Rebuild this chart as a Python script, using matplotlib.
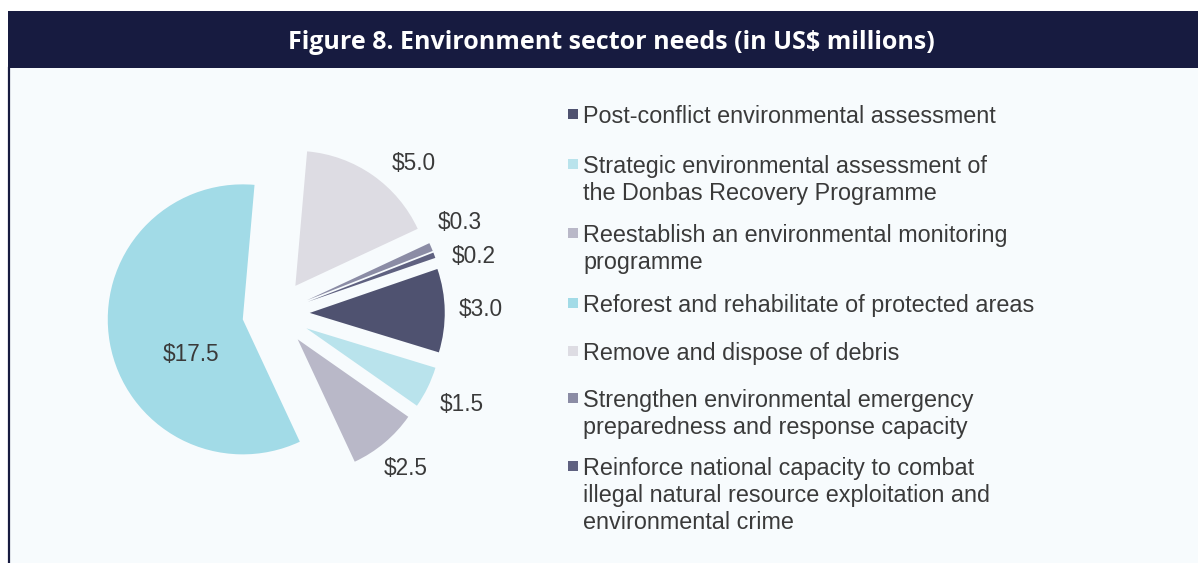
import numpy as np
import matplotlib.pyplot as plt
from matplotlib.patches import Rectangle
from matplotlib.lines import Line2D

W, H = 1198, 563

# Environment sector needs, US$ millions
categories = [
    "Post-conflict environmental assessment",
    "Strategic environmental assessment of\nthe Donbas Recovery Programme",
    "Reestablish an environmental monitoring\nprogramme",
    "Reforest and rehabilitate of protected areas",
    "Remove and dispose of debris",
    "Strengthen environmental emergency\npreparedness and response capacity",
    "Reinforce national capacity to combat\nillegal natural resource exploitation and\nenvironmental crime",
]
needs = [3.0, 1.5, 2.5, 17.5, 5.0, 0.3, 0.2]
colors = ["#4F5270", "#B9E3EC", "#B9B8C8", "#A2DBE7", "#DDDCE3", "#8B8CA5", "#5F6180"]
value_labels = [f"${v:.1f}" for v in needs]

title = "Figure 8. Environment sector needs (in US$ millions)"
navy = "#171B40"
text_col = "#3A3A3A"


def fx(x):
    return x / W


def fy(y):
    return 1 - y / H


fig = plt.figure(figsize=(W / 100, H / 100), dpi=100, facecolor="white")

# panel background, header bar and left rule
fig.patches.append(Rectangle((fx(8), 0), 1 - fx(8), fy(68), transform=fig.transFigure,
                             facecolor="#F7FBFD", edgecolor="none", zorder=-2))
fig.patches.append(Rectangle((fx(8), fy(68)), 1 - fx(8), (68 - 11) / H, transform=fig.transFigure,
                             facecolor=navy, edgecolor="none", zorder=-2))
fig.lines.append(Line2D([fx(8.8), fx(8.8)], [0, fy(68)], transform=fig.transFigure,
                        color=navy, lw=1.6, zorder=-1))
fig.text(fx(611), fy(49), title, ha="center", va="baseline", color="white",
         fontsize=18, fontweight="bold", family="Open Sans")

# pie: common centre at (276, 313.5) px, radius 135 px
cx, cy, R, L = 276, 313.5, 135, 1.9
ax = fig.add_axes([fx(cx - L * R), fy(cy + L * R), 2 * L * R / W, 2 * L * R / H])
ax.set_zorder(2)
wedges, _ = ax.pie(needs, colors=colors, startangle=19, counterclock=False,
                   explode=[0.25] * len(needs), wedgeprops=dict(linewidth=0))
ax.set_xlim(-L, L)
ax.set_ylim(-L, L)
ax.axis("off")

# value labels, nudged apart where the thin slices crowd together
label_shift = [0, 0, 0, 15.5, -7.5, 3.2, -4.2]
label_r = [1.52, 1.53, 1.50, 0.70, 1.51, 1.52, 1.52]
for w, txt, sh, r in zip(wedges, value_labels, label_shift, label_r):
    ang = np.deg2rad((w.theta1 + w.theta2) / 2 + sh)
    ax.text(r * np.cos(ang), r * np.sin(ang), txt, ha="center", va="center",
            fontsize=16.3, family="Liberation Sans", color=text_col)

# legend drawn line by line to the right
legend_baselines = [123, 173, 242, 312, 360, 407, 475]
line_step = 27
for label, col, y0 in zip(categories, colors, legend_baselines):
    fig.patches.append(Rectangle((fx(568), fy(y0 - 4)), 10 / W, 10 / H,
                                 transform=fig.transFigure, facecolor=col, edgecolor="none"))
    for k, part in enumerate(label.split("\n")):
        fig.text(fx(583), fy(y0 + k * line_step), part, ha="left", va="baseline",
                 fontsize=16.8, family="Liberation Sans", color=text_col)

fig.savefig("out.png", dpi=100, facecolor=fig.get_facecolor())
